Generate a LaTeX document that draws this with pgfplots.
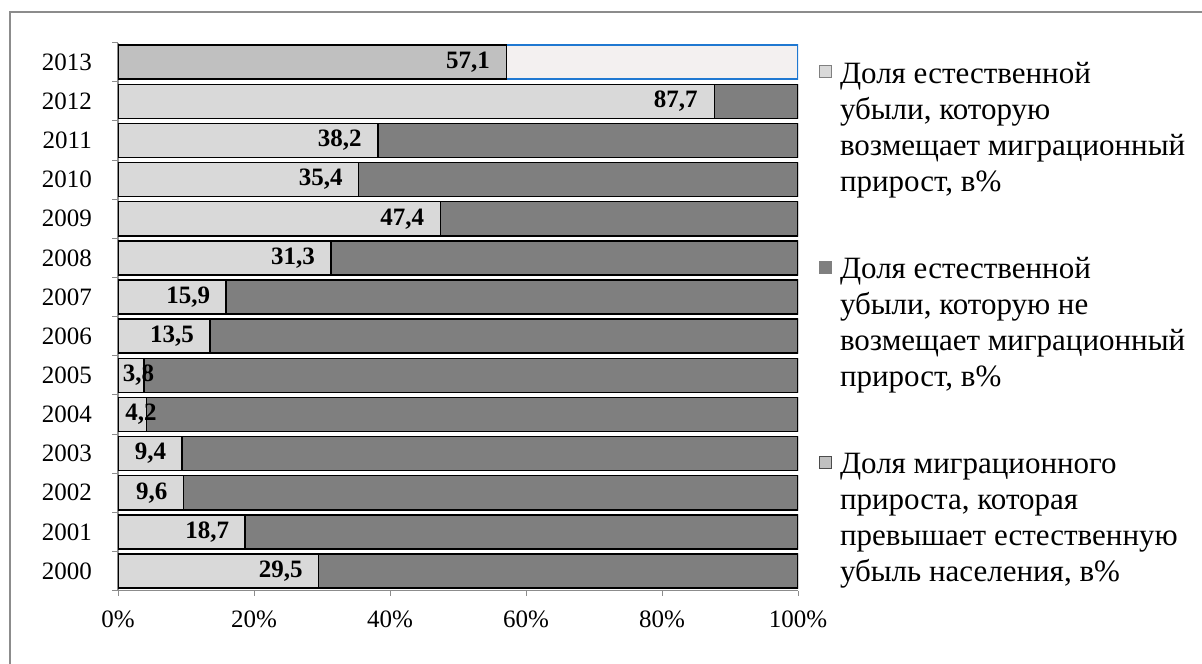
\documentclass[border=0pt]{standalone}
\usepackage{fontspec}
\setmainfont{Liberation Serif}
\usepackage{pgfplots}
\pgfplotsset{compat=1.18}
\definecolor{lightbar}{HTML}{D9D9D9}
\definecolor{darkbar}{HTML}{7F7F7F}
\definecolor{midbar}{HTML}{C0C0C0}
\definecolor{selfill}{HTML}{F3F0F0}
\definecolor{selblue}{HTML}{1F78D1}
\definecolor{framegray}{HTML}{8C8C8C}
\begin{document}
\begin{tikzpicture}[x=1bp,y=1bp]
\path[use as bounding box] (0,0) rectangle (1202,664);
\draw[framegray, line width=2.5bp] (10,-5) -- (10,652) -- (1210,652);
\begin{axis}[
  at={(118bp,73.4bp)}, anchor=south west,
  scale only axis, width=680bp, height=548bp,
  xbar stacked, bar width=0.87,
  xmin=0, xmax=100, ymin=-0.5, ymax=13.5,
  axis x line*=bottom, axis y line*=left,
  axis line style={framegray, line width=1.2bp},
  tick align=outside,
  major tick length=5bp, minor tick length=6bp,
  tick style={framegray, line width=1bp},
  every major y tick/.style={draw=none},
  xtick={0,20,...,100},
  xticklabel={\pgfmathprintnumber{\tick}\%},
  ytick={0,...,13},
  yticklabels={2000,2001,2002,2003,2004,2005,2006,2007,2008,2009,2010,2011,2012,2013},
  minor ytick={-0.5,0.5,...,13.5},
  tick label style={font=\fontsize{25bp}{30bp}\selectfont},
  /pgf/number format/assume math mode=true,
  xticklabel style={anchor=base, inner sep=0pt, yshift=-32bp},
  yticklabel style={anchor=east, inner sep=0pt, xshift=-21bp},
  legend image code/.code={\draw[#1, line width=0.8bp] (0bp,-4bp) rectangle (12bp,8bp);},
  legend cell align=left,
  legend style={at={(1.0309,0.965)}, anchor=north west, draw=none, fill=none,
    inner sep=0pt, row sep=173bp, column sep=8bp,
    nodes={inner sep=0pt},
    font=\fontsize{31bp}{36bp}\selectfont},
]
% share of natural decrease compensated by migration
\addplot[forget plot, fill=lightbar, draw=black, line width=1.5bp,
  point meta=explicit symbolic,
  visualization depends on={rawx \as \rx},
  nodes near coords,
  nodes near coords style={font=\fontsize{25bp}{30bp}\selectfont\bfseries, text=black,
    anchor=east, inner sep=0pt, xshift={\rx<8 ? \rx*3.4+11 : \rx*3.4-15}}]
  coordinates {(29.5,0) [29,5] (18.7,1) [18,7] (9.6,2) [9,6] (9.4,3) [9,4]
    (4.2,4) [4,2] (3.8,5) [3,8] (13.5,6) [13,5] (15.9,7) [15,9] (31.3,8) [31,3]
    (47.4,9) [47,4] (35.4,10) [35,4] (38.2,11) [38,2] (87.7,12) [87,7] (0,13) []};
% migration exceeding natural decrease
\addplot[forget plot, fill=midbar, draw=black, line width=1.5bp,
  point meta=explicit symbolic,
  visualization depends on={rawx \as \rx},
  nodes near coords,
  nodes near coords style={font=\fontsize{25bp}{30bp}\selectfont\bfseries, text=black,
    anchor=east, inner sep=0pt, xshift={\rx*3.4-15}}]
  coordinates {(0,0) [] (0,1) [] (0,2) [] (0,3) [] (0,4) [] (0,5) [] (0,6) []
    (0,7) [] (0,8) [] (0,9) [] (0,10) [] (0,11) [] (0,12) [] (57.1,13) [57,1]};
% remainder of 2013 (selected)
\addplot[forget plot, fill=selfill, draw=selblue, line width=1.5bp]
  coordinates {(0,0) (0,1) (0,2) (0,3) (0,4) (0,5) (0,6) (0,7) (0,8) (0,9)
    (0,10) (0,11) (0,12) (42.9,13)};
% share not compensated
\addplot[forget plot, fill=darkbar, draw=black, line width=1.5bp]
  coordinates {(70.5,0) (81.3,1) (90.4,2) (90.6,3) (95.8,4) (96.2,5) (86.5,6)
    (84.1,7) (68.7,8) (52.6,9) (64.6,10) (61.8,11) (12.3,12) (0,13)};
\addlegendimage{fill=lightbar, draw=gray}
\addlegendentry{\parbox[t]{360bp}{\raggedright Доля естественной\\убыли, которую\\возмещает миграционный\\прирост, в\%}}
\addlegendimage{fill=darkbar, draw=gray}
\addlegendentry{\parbox[t]{360bp}{\raggedright Доля естественной\\убыли, которую не\\возмещает миграционный\\прирост, в\%}}
\addlegendimage{fill=midbar, draw=black!70}
\addlegendentry{\parbox[t]{360bp}{\raggedright Доля миграционного\\прироста, которая\\превышает естественную\\убыль населения, в\%}}
\end{axis}
\end{tikzpicture}
\end{document}
